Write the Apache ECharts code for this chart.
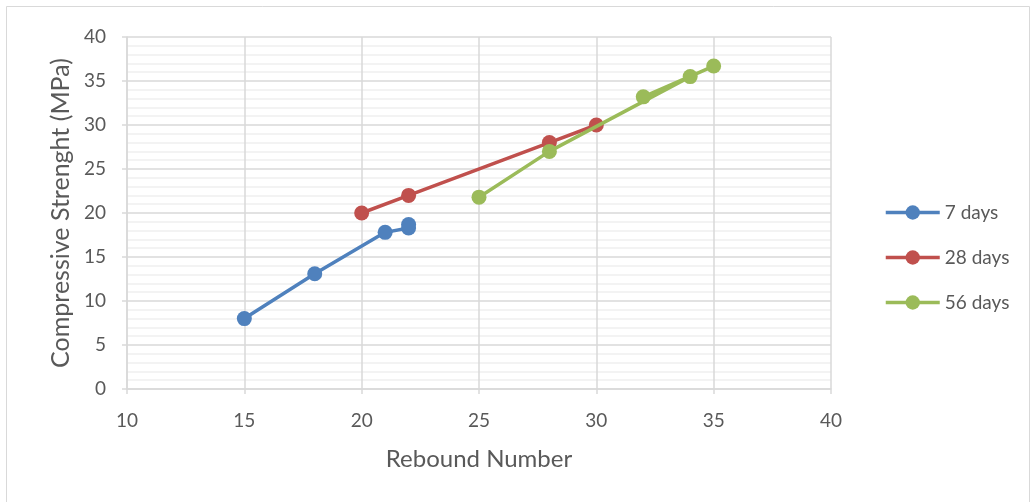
<!DOCTYPE html>
<html>
<head>
<meta charset="utf-8">
<script src="https://cdn.jsdelivr.net/npm/echarts@6/dist/echarts.min.js"></script>
<style>
  html, body { margin: 0; padding: 0; background: #ffffff; }
  #chart { width: 1036px; height: 502px; }
</style>
</head>
<body>
<div id="chart"></div>
<script>
// Rebound hammer number vs compressive strength, by curing age
const seriesNames = ['7 days', '28 days', '56 days'];
const rebound7 = [15, 18, 21, 22, 22];
const strength7 = [8.0, 13.1, 17.8, 18.3, 18.7];
const rebound28 = [20, 22, 28, 30];
const strength28 = [20.0, 22.0, 28.0, 30.0];
const rebound56 = [25, 28, 34, 32, 35];
const strength56 = [21.8, 27.0, 35.5, 33.2, 36.7];
const colors = ['#4f81bd', '#c0504d', '#9bbb59'];

const pairs = (xs, ys) => xs.map((x, i) => [x, ys[i]]);
const seriesData = [
  pairs(rebound7, strength7),
  pairs(rebound28, strength28),
  pairs(rebound56, strength56)
];

const font = 'Lato, "Open Sans", sans-serif';
const textColor = '#595959';

const chart = echarts.init(document.getElementById('chart'), null, { renderer: 'canvas' });
chart.setOption({
  animation: false,
  backgroundColor: '#ffffff',
  textStyle: { fontFamily: font },
  graphic: [{
    type: 'rect',
    shape: { x: 6.5, y: 6.5, width: 1023, height: 500 },
    style: { fill: 'none', stroke: '#d9d9d9', lineWidth: 1 },
    silent: true
  }],
  grid: { left: 127, right: 205, top: 37, bottom: 113, containLabel: false },
  legend: {
    orient: 'vertical',
    left: 879,
    top: 198,
    itemWidth: 54,
    itemHeight: 18,
    itemGap: 26,
    lineStyle: { width: 3.5 },
    textStyle: { fontFamily: font, fontSize: 19, color: textColor },
    data: seriesNames
  },
  xAxis: {
    type: 'value',
    min: 10, max: 40, interval: 5,
    name: 'Rebound Number',
    nameLocation: 'middle',
    nameGap: 58,
    nameTextStyle: { fontFamily: font, fontSize: 24, color: textColor },
    axisLine: { show: true, lineStyle: { color: '#d9d9d9', width: 1.5 } },
    axisTick: { show: true, length: 5, lineStyle: { color: '#d9d9d9', width: 1.5 } },
    axisLabel: { fontFamily: font, fontSize: 19, color: textColor, margin: 22 },
    splitLine: { show: true, lineStyle: { color: '#d9d9d9', width: 1.5 } }
  },
  yAxis: {
    type: 'value',
    min: 0, max: 40, interval: 5,
    name: 'Compressive Strenght (MPa)',
    nameLocation: 'middle',
    nameGap: 54,
    nameTextStyle: { fontFamily: font, fontSize: 25, color: textColor },
    axisLine: { show: true, lineStyle: { color: '#d9d9d9', width: 1.5 } },
    axisTick: { show: true, length: 5, lineStyle: { color: '#d9d9d9', width: 1.5 } },
    axisLabel: { fontFamily: font, fontSize: 19, color: textColor, margin: 21 },
    splitLine: { show: true, lineStyle: { color: '#d9d9d9', width: 1.5 } },
    minorTick: { show: false, splitNumber: 5 },
    minorSplitLine: { show: true, lineStyle: { color: '#f0f0f0', width: 1.5 } }
  },
  series: seriesNames.map((name, i) => ({
    name,
    type: 'line',
    data: seriesData[i],
    symbol: 'circle',
    symbolSize: 15,
    color: colors[i],
    lineStyle: { width: 3.5, color: colors[i] },
    itemStyle: { color: colors[i] },
    z: 2 + i
  }))
});
</script>
</body>
</html>
